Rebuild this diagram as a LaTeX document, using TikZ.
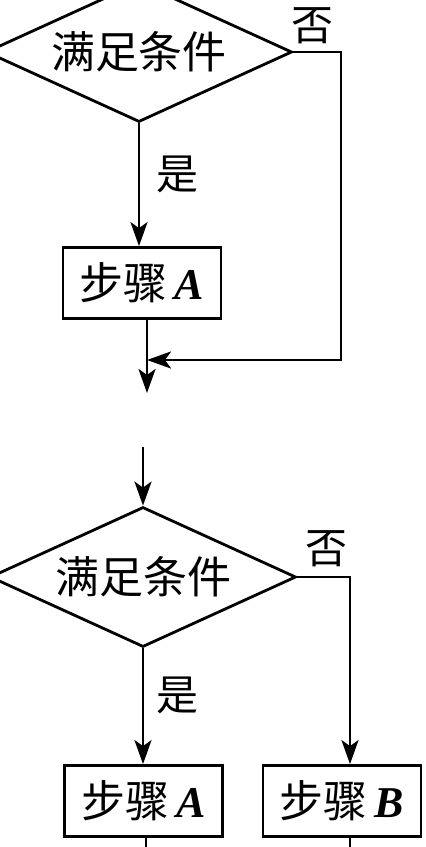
\documentclass[tikz,border=0pt]{standalone}
\usepackage{fontspec}
\setmainfont{Liberation Serif}
\newfontfamily\cjk{Noto Sans CJK SC}
\usetikzlibrary{shapes.geometric}
\usetikzlibrary{arrows.meta}
\usetikzlibrary{calc}
\tikzset{arr/.style={-{Stealth[length=12pt,width=8.5pt,inset=3pt]}}}
\newcommand{\stepname}[1]{{\rmfamily\bfseries\itshape #1}}

\begin{document}
\begin{tikzpicture}[x=0.5pt,y=-0.5pt,line width=1.4pt,
                    cond/.style={diamond,draw,inner sep=0pt,aspect=2.2,
                                 minimum width=153pt,minimum height=70pt,
                                 font=\cjk\fontsize{22pt}{22pt}\selectfont},
                    stepbox/.style={rectangle,draw,inner sep=0pt,
                                 minimum width=79pt,minimum height=35.5pt,
                                 font=\cjk\fontsize{22pt}{22pt}\selectfont},
                    lab/.style={inner sep=0pt,
                                font=\cjk\fontsize{21pt}{21pt}\selectfont}]

		\useasboundingbox (0,0) rectangle (425,847);

		% Primeiro fluxo: condição e passo A
		\node [cond] (c1) at (139,52) {满足条件};
		\node [stepbox] (a1) at (142,283) {步骤\,\stepname{A}};

		\coordinate (r1) at (341,360);
		\coordinate (m1) at (147,360);
		\coordinate (o1) at (147,393);

		% Rótulos "是" e "否"
		\node [lab] (y1) at (177,174) {是};
		\node [lab] (n1) at (312,26) {否};

		% Flecha do "是"
		\draw [arr] (c1.south) -- (c1.south |- a1.north);

		% Flecha do "否" que volta à linha de saída
		\draw [arr] (c1.east) -| (r1) -- (m1);

		% Saída do passo A
		\draw [arr] (a1.south -| m1) -- (o1);

		% Segundo fluxo: condição, passo A e passo B
		\coordinate (i2) at (143,447);
		\node [cond] (c2) at (143,577) {满足条件};
		\node [stepbox] (a2) at (143.5,801) {步骤\,\stepname{A}};
		\node [stepbox] (b2) at (342,801) {步骤\,\stepname{B}};

		\coordinate (colB) at (350,0);
		\coordinate (e2a) at (146,850);
		\coordinate (e2b) at (350,850);

		\node [lab] (y2) at (177,695) {是};
		\node [lab] (n2) at (326,549) {否};

		% Entrada
		\draw [arr] (i2) -- (c2.north);

		% Flecha do "是"
		\draw [arr] (c2.south) -- (c2.south |- a2.north);

		% Flecha do "否"
		\draw [arr] (c2.east) -| (b2.north -| colB);

		% Saídas
		\draw (a2.south -| e2a) -- (e2a);
		\draw (b2.south -| e2b) -- (e2b);

	\end{tikzpicture}
\end{document}
